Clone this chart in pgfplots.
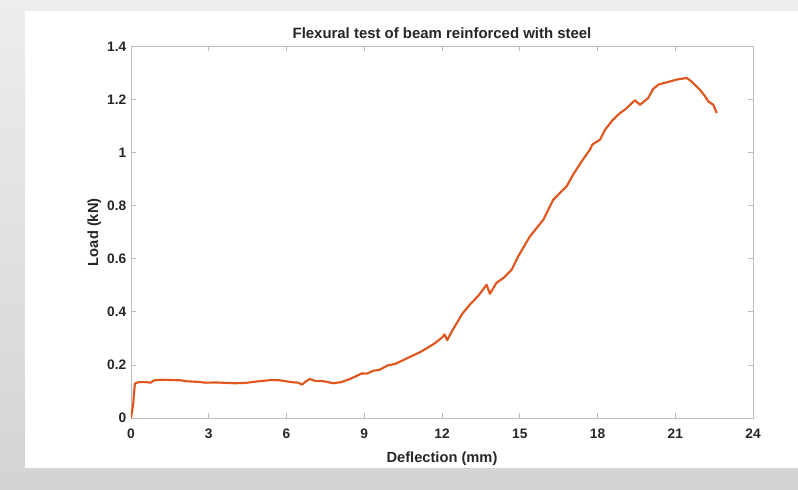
\documentclass[border=0pt]{standalone}
\usepackage{pgfplots}
\pgfplotsset{compat=1.18}
\usepackage{fontspec}
\setmainfont{Liberation Sans}
\definecolor{matorange}{HTML}{E0561C}
\definecolor{axgray}{HTML}{BDBDBD}
\definecolor{txt}{HTML}{262626}
\begin{document}
\begin{tikzpicture}
% background (1px = 0.75pt); axis origin at px (131,418)
\shade[top color=black!7,bottom color=black!17] (-98.25pt,-53.25pt) rectangle (500.25pt,313.5pt);
\fill[white] (-79.5pt,-37.5pt) rectangle (500.25pt,305.25pt);
\begin{axis}[
  at={(0,0)}, anchor=south west,
  scale only axis,
  width=466.5pt, height=278.7pt,
  xmin=0, xmax=24, ymin=0, ymax=1.4,
  xtick={0,3,...,24},
  ytick={0,0.2,...,1.4},
  yticklabels={0,0.2,0.4,0.6,0.8,1,1.2,1.4},
  axis line style={axgray, line width=0.6pt},
  tick style={axgray, line width=0.6pt},
  major tick length=3.5pt,
  tick align=inside,
  /pgf/number format/assume math mode=true,
  tick label style={font=\fontsize{10.3pt}{12pt}\selectfont\bfseries, text=txt},
  xticklabel style={yshift=-4.5pt},
  yticklabel style={xshift=0pt},
  title={Flexural test of beam reinforced with steel},
  title style={font=\fontsize{11.2pt}{13pt}\selectfont\bfseries, text=txt, at={(axis description cs:0.5,1.0135)}, anchor=center, yshift=0pt},
  xlabel={Deflection (mm)},
  ylabel={Load (kN)},
  xlabel style={font=\fontsize{11pt}{13pt}\selectfont\bfseries, text=txt, at={(axis description cs:0.5,-0.1095)}, anchor=center, yshift=0pt},
  ylabel style={font=\fontsize{11pt}{13pt}\selectfont\bfseries, text=txt, at={(axis description cs:-0.059,0.5)}, anchor=center, xshift=0pt},
]
\addplot[matorange, line width=1.6pt, line join=round] coordinates {
(0,0) (0.08,0.05) (0.15,0.13) (0.3,0.135) (0.6,0.135) (0.75,0.133) (0.9,0.142)
(1.2,0.144) (1.6,0.143) (1.9,0.142) (2.2,0.138) (2.6,0.136) (2.9,0.133)
(3.3,0.134) (3.7,0.132) (4.0,0.131) (4.4,0.132) (4.8,0.137) (5.1,0.14)
(5.4,0.143) (5.75,0.142) (6.0,0.138) (6.2,0.135) (6.45,0.133) (6.6,0.126)
(6.75,0.138) (6.9,0.147) (7.1,0.14) (7.4,0.139) (7.65,0.134) (7.8,0.131)
(8.1,0.135) (8.4,0.145) (8.7,0.158) (8.9,0.168) (9.1,0.167) (9.35,0.178)
(9.6,0.182) (9.9,0.198) (10.2,0.204) (10.5,0.218) (10.8,0.232) (11.15,0.248)
(11.4,0.262) (11.7,0.28) (12.0,0.303) (12.1,0.315) (12.2,0.293) (12.4,0.33)
(12.8,0.395) (13.1,0.43) (13.4,0.46) (13.72,0.502) (13.85,0.468) (14.1,0.509)
(14.4,0.53) (14.69,0.559) (14.94,0.609) (15.39,0.684) (15.91,0.747)
(16.29,0.822) (16.81,0.873) (17.06,0.917) (17.39,0.967) (17.71,1.011)
(17.8,1.03) (18.1,1.049) (18.29,1.086) (18.6,1.124) (18.87,1.149)
(19.1,1.165) (19.44,1.197) (19.64,1.18) (19.96,1.206) (20.15,1.24)
(20.35,1.256) (20.8,1.268) (21.05,1.275) (21.44,1.281) (21.6,1.27)
(21.69,1.262) (21.95,1.237) (22.15,1.212) (22.27,1.193) (22.47,1.18)
(22.6,1.149)
};
\end{axis}
\end{tikzpicture}
\end{document}
